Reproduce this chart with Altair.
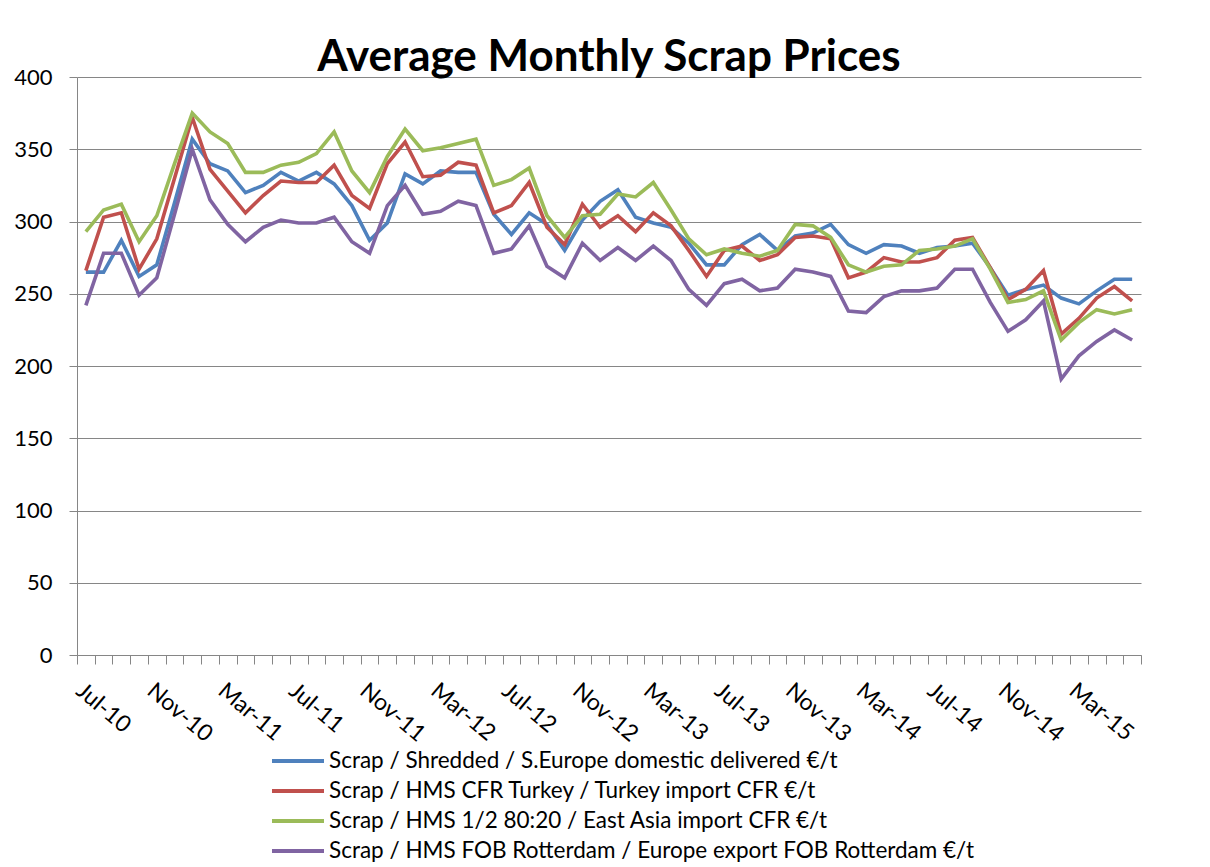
import altair as alt
import pandas as pd

months = [
    "Jul-10", "Aug-10", "Sep-10", "Oct-10", "Nov-10", "Dec-10",
    "Jan-11", "Feb-11", "Mar-11", "Apr-11", "May-11", "Jun-11",
    "Jul-11", "Aug-11", "Sep-11", "Oct-11", "Nov-11", "Dec-11",
    "Jan-12", "Feb-12", "Mar-12", "Apr-12", "May-12", "Jun-12",
    "Jul-12", "Aug-12", "Sep-12", "Oct-12", "Nov-12", "Dec-12",
    "Jan-13", "Feb-13", "Mar-13", "Apr-13", "May-13", "Jun-13",
    "Jul-13", "Aug-13", "Sep-13", "Oct-13", "Nov-13", "Dec-13",
    "Jan-14", "Feb-14", "Mar-14", "Apr-14", "May-14", "Jun-14",
    "Jul-14", "Aug-14", "Sep-14", "Oct-14", "Nov-14", "Dec-14",
    "Jan-15", "Feb-15", "Mar-15", "Apr-15", "May-15", "Jun-15",
]

series_names = [
    "Scrap / Shredded / S.Europe domestic delivered €/t",
    "Scrap / HMS CFR Turkey / Turkey import CFR €/t",
    "Scrap / HMS 1/2 80:20  / East Asia import CFR €/t",
    "Scrap / HMS FOB Rotterdam / Europe export FOB Rotterdam €/t",
]

shredded = [265, 265, 287, 262, 270, 313, 357, 340, 335, 320, 325, 334,
            328, 334, 326, 311, 287, 299, 333, 326, 335, 334, 334, 305,
            291, 306, 298, 280, 301, 314, 322, 303, 299, 296, 285, 270,
            270, 284, 291, 280, 290, 292, 298, 284, 278, 284, 283, 278,
            282, 283, 285, 268, 249, 253, 256, 247, 243, 252, 260, 260]

turkey = [266, 303, 306, 267, 288, 330, 372, 336, 321, 306, 318, 328,
          327, 327, 339, 318, 309, 340, 355, 331, 332, 341, 339, 306,
          311, 327, 296, 284, 312, 296, 304, 293, 306, 297, 280, 262,
          280, 283, 273, 277, 289, 290, 288, 261, 265, 275, 272, 272,
          275, 287, 289, 268, 246, 253, 266, 222, 233, 247, 255, 245]

east_asia = [293, 308, 312, 286, 304, 340, 375, 362, 354, 334, 334, 339,
             341, 347, 362, 335, 320, 345, 364, 349, 351, 354, 357, 325,
             329, 337, 304, 289, 304, 305, 319, 317, 327, 308, 288, 277,
             281, 278, 276, 280, 298, 297, 289, 270, 265, 269, 270, 280,
             281, 283, 288, 267, 244, 246, 252, 218, 230, 239, 236, 239]

rotterdam = [242, 278, 278, 249, 261, 305, 350, 315, 298, 286, 296, 301,
             299, 299, 303, 286, 278, 311, 325, 305, 307, 314, 311, 278,
             281, 297, 269, 261, 285, 273, 282, 273, 283, 273, 253, 242,
             257, 260, 252, 254, 267, 265, 262, 238, 237, 248, 252, 252,
             254, 267, 267, 244, 224, 232, 245, 191, 207, 217, 225, 218]

colors = ["#4F81BD", "#C0504D", "#9BBB59", "#8064A2"]
y_ticks = [0, 50, 100, 150, 200, 250, 300, 350, 400]

rows = []
for name, vals in zip(series_names, [shredded, turkey, east_asia, rotterdam]):
    for m, v in zip(months, vals):
        rows.append({"month": m, "series": name, "price": v})
df = pd.DataFrame(rows)

FONT = "Lato"
GRAY = "#868686"

chart = alt.Chart(df).mark_line(strokeWidth=3.6, interpolate="linear").encode(
    x=alt.X(
        "month:O",
        sort=months,
        bandPosition=0.5,
        scale=alt.Scale(type="band", paddingInner=0, paddingOuter=0),
        axis=alt.Axis(
            title=None,
            labelExpr="test(/^(Jul|Nov|Mar)/, datum.value) ? datum.value : ''",
            labelAngle=40,
            labelAlign="left",
            labelBaseline="top",
            labelOverlap=False,
            labelPadding=15,
            labelFont=FONT,
            labelFontSize=23,
            labelColor="#000000",
            tickBand="extent",
            tickSize=9,
            tickColor=GRAY,
            domainColor=GRAY,
            grid=False,
        ),
    ),
    y=alt.Y(
        "price:Q",
        scale=alt.Scale(domain=[0, 400], nice=False),
        axis=alt.Axis(
            title=None,
            values=y_ticks,
            tickSize=8,
            tickColor=GRAY,
            domainColor=GRAY,
            gridColor=GRAY,
            gridWidth=1,
            labelFont=FONT,
            labelFontSize=22,
            labelColor="#000000",
            labelPadding=17,
            minExtent=69,
            maxExtent=69,
        ),
    ),
    color=alt.Color(
        "series:N",
        scale=alt.Scale(domain=series_names, range=colors),
        legend=alt.Legend(
            orient="none",
            legendX=193,
            legendY=669,
            direction="vertical",
            title=None,
            symbolType="stroke",
            symbolSize=2704,
            symbolStrokeWidth=4,
            labelFont=FONT,
            labelFontSize=22.5,
            labelColor="#000000",
            labelLimit=0,
            labelOffset=3,
            clipHeight=30,
            rowPadding=0,
            padding=0,
        ),
    ),
).properties(
    width=1064,
    height=578,
    title=alt.TitleParams(
        "Average Monthly Scrap Prices",
        font=FONT,
        fontSize=44,
        fontWeight="bold",
        anchor="middle",
        color="#000000",
        offset=-14,
    ),
    padding={"left": 0, "top": 28, "right": 0, "bottom": 0},
).configure_view(strokeWidth=0)

chart.save("out.html", embed_options={"renderer": "svg", "actions": False})
